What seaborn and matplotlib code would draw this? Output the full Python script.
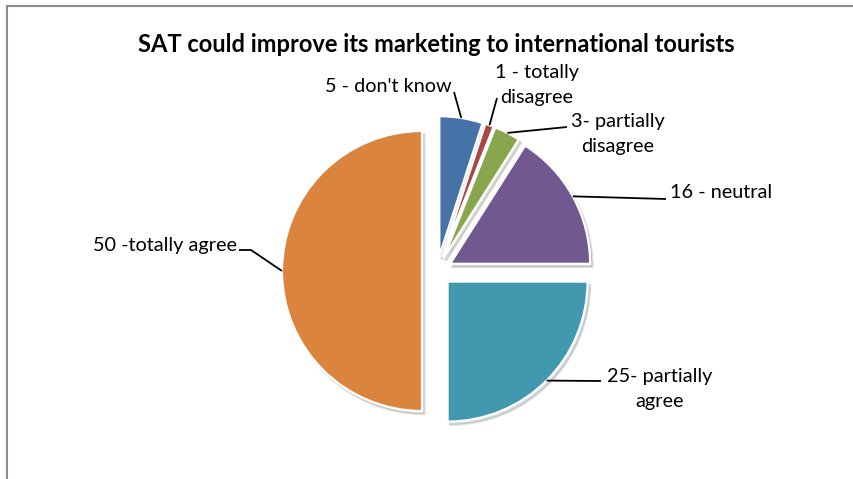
import numpy as np
import pandas as pd
import matplotlib
matplotlib.use("Agg")
import matplotlib.pyplot as plt
from matplotlib.lines import Line2D
import seaborn as sns

# Survey responses, clockwise from 12 o'clock
labels = ["5 - don't know", "1 - totally\ndisagree", "3- partially\ndisagree",
          "16 - neutral", "25- partially\nagree", "50 -totally agree"]
counts = [5, 1, 3, 16, 25, 50]
colors = ["#4572A7", "#AA4643", "#89A54E", "#71588F", "#4198AF", "#DB843D"]
title = "SAT could improve its marketing to international tourists"

df = pd.DataFrame({"label": labels, "count": counts, "color": colors})

sns.set_theme(style="white")
plt.rcParams["font.family"] = ["Lato", "DejaVu Sans"]

W, H, DPI = 854, 479, 100
fig = plt.figure(figsize=(W / DPI, H / DPI), dpi=DPI)
fig.patch.set_facecolor("white")
ax = fig.add_axes([0, 0, 1, 1])

# pixel layout helpers: pie centre and radius in pixels
CX, CY, R = 437, 271, 140


def px(x, y):
    return ((x - CX) / R, (CY - y) / R)


explode = 0.107
wedges, _ = ax.pie(
    df["count"], colors=df["color"], startangle=90, counterclock=False,
    explode=[explode] * len(df), radius=1.0,
    wedgeprops=dict(edgecolor="white", linewidth=1.6),
    shadow=dict(ox=0.012, oy=-0.016, shade=0.7, alpha=0.15),
)

ax.set_aspect("equal")
ax.set_xlim(-CX / R, (W - CX) / R)
ax.set_ylim(-(H - CY) / R, CY / R)
ax.axis("off")

# label placement (text anchor, alignment, leader path start in pixels)
label_layout = [
    dict(text=(388, 87), ha="center", path=[(454, 92)]),
    dict(text=(537, 85), ha="center", path=[(497, 98)]),
    dict(text=(618, 134), ha="center", path=[(567, 127)]),
    dict(text=(670, 193), ha="left", path=[(666, 199)]),
    dict(text=(660, 389), ha="center", path=[(601, 381)]),
    dict(text=(237, 246), ha="right", path=[(239, 250), (251, 250)]),
]

fs = 14.3
for w, lab, lay in zip(wedges, df["label"], label_layout):
    mid = np.deg2rad((w.theta1 + w.theta2) / 2)
    cx, cy = w.center
    edge = (cx + w.r * np.cos(mid), cy + w.r * np.sin(mid))
    pts = [px(*p) for p in lay["path"]] + [edge]
    xs, ys = zip(*pts)
    ax.plot(xs, ys, color="black", lw=1.3, solid_capstyle="butt", zorder=5)
    tx, ty = px(*lay["text"])
    ax.text(tx, ty, lab, ha=lay["ha"], va="center", fontsize=fs,
            color="black", linespacing=1.6, zorder=6)

fig.text(436 / W, 1 - 44 / H, title, ha="center", va="center",
         fontsize=17, fontweight="bold", color="black")

# chart frame (top and left borders)
frame_kw = dict(color="#8c8c8c", lw=1.5, transform=fig.transFigure)
fig.add_artist(Line2D([7 / W, 1], [1 - 6 / H, 1 - 6 / H], **frame_kw))
fig.add_artist(Line2D([7 / W, 7 / W], [0, 1 - 6 / H], **frame_kw))

fig.savefig("out.png", dpi=DPI, facecolor="white")
